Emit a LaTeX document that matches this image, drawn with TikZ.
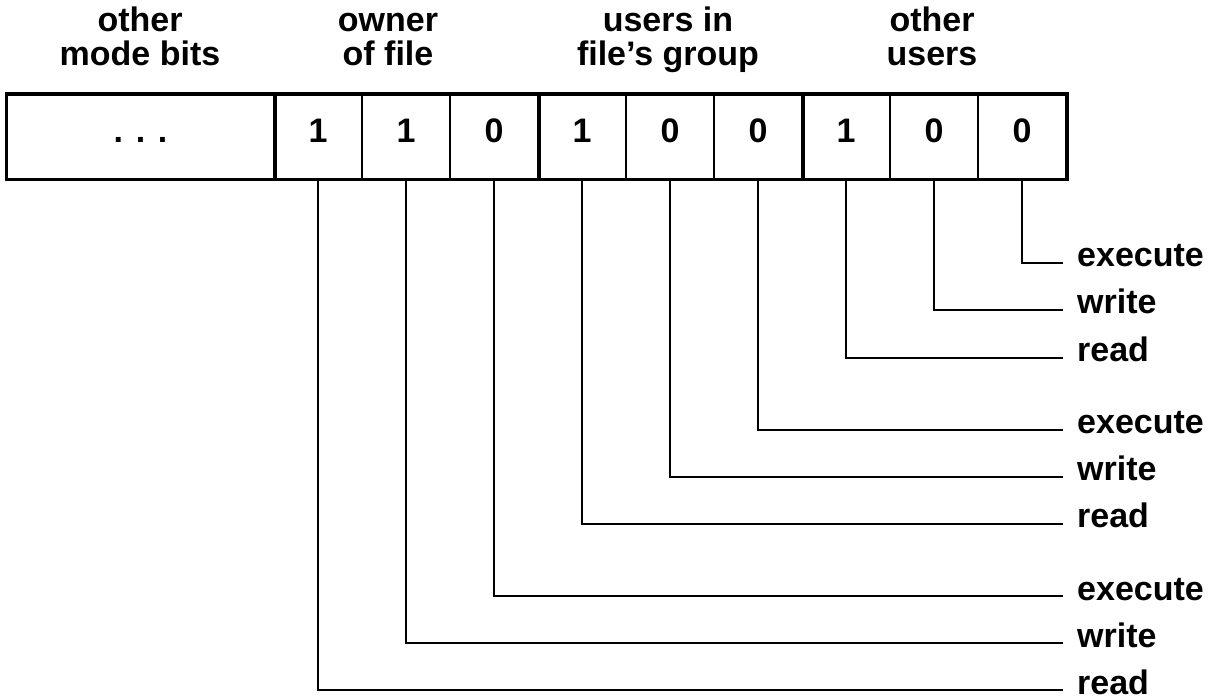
\documentclass[tikz,border=0pt]{standalone}
\usepackage{fontspec}
\setmainfont{Liberation Sans}
\begin{document}
\begin{tikzpicture}[x=1pt,y=-1pt,
  txt/.style={font=\fontsize{34}{34}\selectfont\bfseries, inner sep=0pt},
  lbl/.style={txt, anchor=base west},
  hdr/.style={txt, anchor=base},
  cell/.style={txt, draw, line width=2pt, minimum width=88pt, minimum height=84pt,
    text height=24pt, text depth=12pt},
  conn/.style={line width=2pt}]
\useasboundingbox (0,0) rectangle (1211,700);

% headers
\node[hdr] (h1a) at (140,32) {other};
\node[hdr] (h1b) at (140,66) {mode bits};
\node[hdr] (h2a) at (388,32) {owner};
\node[hdr] (h2b) at (388,66) {of file};
\node[hdr] (h3a) at (668,32) {users in};
\node[hdr] (h3b) at (668,66) {file’s group};
\node[hdr] (h4a) at (932,32) {other};
\node[hdr] (h4b) at (932,66) {users};

% cells
\node[cell, minimum width=267pt] (b0) at (140.5,137) {. . .};
\node[cell] (b1) at (318,137) {1};
\node[cell] (b2) at (406,137) {1};
\node[cell] (b3) at (494,137) {0};
\node[cell] (b4) at (582,137) {1};
\node[cell] (b5) at (670,137) {0};
\node[cell] (b6) at (758,137) {0};
\node[cell] (b7) at (846,137) {1};
\node[cell] (b8) at (934,137) {0};
\node[cell] (b9) at (1022,137) {0};
\draw[line width=3pt] (b0.north west) rectangle (b9.south east);
\foreach \g in {b0,b3,b6}
  \draw[line width=4pt] (\g.north east) -- (\g.south east);

% labels
\node[lbl] (l9) at (1077,267) {execute};
\node[lbl] (l8) at (1077,314) {write};
\node[lbl] (l7) at (1077,362) {read};
\node[lbl] (l6) at (1077,434) {execute};
\node[lbl] (l5) at (1077,481) {write};
\node[lbl] (l4) at (1077,528) {read};
\node[lbl] (l3) at (1077,600) {execute};
\node[lbl] (l2) at (1077,647) {write};
\node[lbl] (l1) at (1077,694) {read};

% connectors
\foreach \i in {1,...,9}
  \draw[conn] (b\i.south) |- ([xshift=-14pt,yshift=4pt]l\i.base west);
\end{tikzpicture}
\end{document}
